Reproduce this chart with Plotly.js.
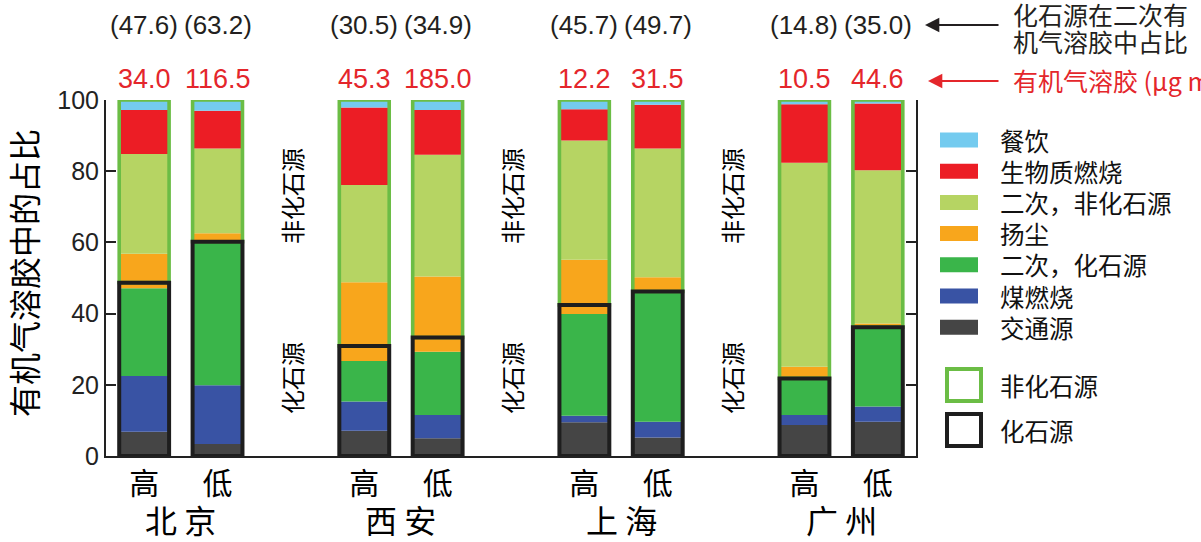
<!DOCTYPE html>
<html>
<head>
<meta charset="utf-8">
<script src="https://cdn.plot.ly/plotly-3.0.1.min.js"></script>
<style>
  html, body { margin: 0; padding: 0; background: #fff; }
  #chart { width: 1201px; height: 542px; }
</style>
</head>
<body>
<div id="chart"></div>
<script>
// Cities and pollution levels (two bars per city)
const cities = ['北 京', '西 安', '上 海', '广 州'];
const levels = ['高', '低', '高', '低', '高', '低', '高', '低'];

// Organic aerosol mass concentration (μg m-3) for each bar
const totalOA = [34.0, 116.5, 45.3, 185.0, 12.2, 31.5, 10.5, 44.6];
// Fossil share of secondary organic aerosol (%)
const fossilShareSOA = [47.6, 63.2, 30.5, 34.9, 45.7, 49.7, 14.8, 35.0];

// Source contributions (% of organic aerosol), bottom to top
const traffic       = [6.8, 3.4, 7.1, 5.0, 9.5, 5.2, 8.7, 9.6];
const coal          = [15.7, 16.5, 8.2, 6.5, 1.8, 4.4, 2.8, 4.3];
const secFossil     = [24.6, 40.3, 11.4, 17.8, 28.6, 36.6, 10.3, 22.3];
const dustFossil    = [1.6, 0.0, 4.2, 4.0, 2.5, 0.0, 0.0, 0.0];
const dustNonFossil = [8.1, 2.4, 17.9, 17.1, 12.7, 4.0, 3.3, 1.0];
const secNonFossil  = [28.0, 23.8, 27.3, 34.2, 33.5, 36.2, 57.3, 43.1];
const biomass       = [12.4, 10.6, 21.8, 12.6, 8.8, 12.3, 16.4, 18.7];
const cooking       = [2.8, 3.0, 2.1, 2.8, 2.6, 1.3, 1.2, 1.0];

// Legend labels
const sourceLabels = ['餐饮', '生物质燃烧', '二次，非化石源', '扬尘', '二次，化石源', '煤燃烧', '交通源'];
const groupLabels = ['非化石源', '化石源'];

// Colours
const C = {
  cooking: '#74CBEF', biomass: '#EC1D25', secNonFossil: '#B6D463', dust: '#F8A61C',
  secFossil: '#3AB54A', coal: '#3953A4', traffic: '#454545',
  nonFossilBox: '#6BBD45', fossilBox: '#1E1E1E'
};
const legendColors = [C.cooking, C.biomass, C.secNonFossil, C.dust, C.secFossil, C.coal, C.traffic];

// Bar positions: pairs of bars with a one-slot gap between cities
const xPos = levels.map((_, i) => Math.floor(i / 2) * 3 + (i % 2));
const cityX = cities.map((_, k) => k * 3 + 0.5);
const dividerX = [2, 5, 8];

const BAR_W = 0.68;
const stack = [
  { y: traffic, color: C.traffic },
  { y: coal, color: C.coal },
  { y: secFossil, color: C.secFossil },
  { y: dustFossil, color: C.dust },
  { y: dustNonFossil, color: C.dust },
  { y: secNonFossil, color: C.secNonFossil },
  { y: biomass, color: C.biomass },
  { y: cooking, color: C.cooking }
];

const traces = [];
let running = levels.map(() => 0);
stack.forEach(s => {
  traces.push({
    type: 'bar', x: xPos, y: s.y, base: running.slice(), width: BAR_W,
    marker: { color: s.color, line: { width: 0 } },
    hoverinfo: 'skip', showlegend: false, cliponaxis: false
  });
  running = running.map((v, i) => v + s.y[i]);
});

// Fossil / non-fossil outline boxes
const fossilTotal = levels.map((_, i) => traffic[i] + coal[i] + secFossil[i] + dustFossil[i]);
const grandTotal = running;
traces.push({
  type: 'bar', x: xPos, y: grandTotal.map((t, i) => t - fossilTotal[i]), base: fossilTotal, width: BAR_W,
  marker: { color: 'rgba(0,0,0,0)', line: { color: C.nonFossilBox, width: 3.6 } },
  hoverinfo: 'skip', showlegend: false, cliponaxis: false
});
traces.push({
  type: 'bar', x: xPos, y: fossilTotal, base: levels.map(() => 0), width: BAR_W,
  marker: { color: 'rgba(0,0,0,0)', line: { color: C.fossilBox, width: 4 } },
  hoverinfo: 'skip', showlegend: false, cliponaxis: false
});

// Plot-area geometry (pixels) used to place paper-referenced items
const W = 1201, H = 542;
const M = { l: 106, r: 285, t: 100, b: 86 };
const PW = W - M.l - M.r, PH = H - M.t - M.b;
const px = v => (v - M.l) / PW;
const py = v => (H - M.b - v) / PH;

const CJK = 'Noto Sans CJK SC, Noto Sans, sans-serif';
const NUM = 'Liberation Sans Narrow, Liberation Sans, Arial, sans-serif';
const RED = '#E4262B';
const INK = '#231F20';

const annotations = [];
const shapes = [];

function label(xv, xref, yPx, text, font, extra) {
  annotations.push(Object.assign({
    x: xv, xref: xref, y: py(yPx), yref: 'paper', showarrow: false, text: text,
    font: font, xanchor: 'center', yanchor: 'middle', borderpad: 0
  }, extra || {}));
}

// Numbers above bars
levels.forEach((_, i) => {
  label(xPos[i], 'x', 25, '(' + fossilShareSOA[i].toFixed(1) + ')', { family: NUM, size: 26, color: INK });
  label(xPos[i], 'x', 79, totalOA[i].toFixed(1), { family: NUM, size: 27, color: RED });
});

// City names
cities.forEach((c, k) => {
  label(cityX[k], 'x', 519, c, { family: CJK, size: 32, color: '#000' });
});

// Vertical group labels between cities
dividerX.forEach(xv => {
  label(xv, 'x', 196, groupLabels[0], { family: CJK, size: 24, color: '#000' }, { textangle: -90 });
  label(xv, 'x', 378, groupLabels[1], { family: CJK, size: 24, color: '#000' }, { textangle: -90 });
});

// Y-axis title
label(px(23), 'paper', 273, '有机气溶胶中的占比', { family: CJK, size: 32, color: '#000' }, { textangle: -90 });

// Pointers to the two rows of numbers
annotations.push({
  x: px(925), xref: 'paper', y: py(25), yref: 'paper', ax: 75, ay: 0, text: '',
  showarrow: true, arrowhead: 2, arrowsize: 1.3, arrowwidth: 2.2, arrowcolor: INK
});
annotations.push({
  x: px(928), xref: 'paper', y: py(81), yref: 'paper', ax: 72, ay: 0, text: '',
  showarrow: true, arrowhead: 2, arrowsize: 1.3, arrowwidth: 2.2, arrowcolor: RED
});
label(px(1012), 'paper', 14, '化石源在二次有', { family: CJK, size: 25, color: INK }, { xanchor: 'left' });
label(px(1012), 'paper', 41, '机气溶胶中占比', { family: CJK, size: 25, color: INK }, { xanchor: 'left' });
label(px(1012), 'paper', 80, '有机气溶胶 (μg m⁻³)', { family: CJK, size: 25, color: RED }, { xanchor: 'left' });

// Legend: colour swatches
sourceLabels.forEach((lab, i) => {
  const cy = 140 + 31.2 * i;
  shapes.push({
    type: 'rect', xref: 'paper', yref: 'paper',
    x0: px(940), x1: px(978), y0: py(cy - 7.5), y1: py(cy + 7.5),
    fillcolor: legendColors[i], line: { width: 0 }
  });
  label(px(999), 'paper', cy, lab, { family: CJK, size: 24.5, color: '#111' }, { xanchor: 'left' });
});
// Legend: outline boxes
[[385, C.nonFossilBox, groupLabels[0]], [430, C.fossilBox, groupLabels[1]]].forEach(([cy, col, lab]) => {
  shapes.push({
    type: 'rect', xref: 'paper', yref: 'paper',
    x0: px(947), x1: px(981), y0: py(cy - 16), y1: py(cy + 16),
    fillcolor: 'rgba(0,0,0,0)', line: { color: col, width: 4 }
  });
  label(px(999), 'paper', cy, lab, { family: CJK, size: 24.5, color: '#111' }, { xanchor: 'left' });
});

const layout = {
  width: W, height: H,
  margin: M,
  paper_bgcolor: '#fff', plot_bgcolor: '#fff',
  barmode: 'overlay',
  showlegend: false,
  xaxis: {
    range: [-0.52, 10.52], tickvals: xPos, ticktext: levels,
    ticks: '', showgrid: false, zeroline: false,
    showline: true, linecolor: '#222', linewidth: 2,
    tickfont: { family: CJK, size: 30, color: '#000' }
  },
  yaxis: {
    range: [0, 100], tickvals: [0, 20, 40, 60, 80, 100],
    ticks: 'inside', ticklen: 10, tickwidth: 2, tickcolor: '#222',
    showline: true, linecolor: '#222', linewidth: 2, mirror: 'ticks',
    showgrid: false, zeroline: false,
    tickfont: { family: 'Liberation Sans, Arial, sans-serif', size: 25, color: '#222' }
  },
  annotations: annotations,
  shapes: shapes
};

Plotly.newPlot('chart', traces, layout, { displayModeBar: false, staticPlot: true });
</script>
</body>
</html>
